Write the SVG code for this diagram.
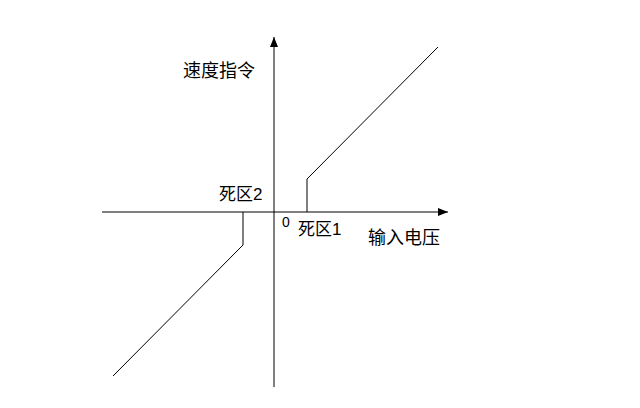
<svg xmlns="http://www.w3.org/2000/svg" width="640" height="408" viewBox="0 0 640 408">
<style>
.ax{stroke:#000;stroke-width:1;fill:none}
.ln{stroke:#000;stroke-width:1;fill:none}
text{font-family:"Liberation Sans","Noto Sans CJK SC",sans-serif;fill:#000}
</style>
<defs>
<marker id="arr" viewBox="0 0 10 8" refX="10" refY="4" markerWidth="10" markerHeight="8" markerUnits="userSpaceOnUse" orient="auto">
<path d="M0,0 L10,4 L0,8 Z" fill="#000"/>
</marker>
</defs>
<rect width="640" height="408" fill="#fff"/>
<g id="connectors">
<line class="ax" x1="102" y1="212" x2="448" y2="212" marker-end="url(#arr)"/>
<line class="ax" x1="274" y1="387" x2="274" y2="37" marker-end="url(#arr)"/>
<polyline class="ln" points="307,212 307,179 438,47"/>
<polyline class="ln" points="243,212 243,245 113,376"/>
</g>
<g id="labels">
<text x="183" y="77" font-size="18">速度指令</text>
<text x="368" y="244" font-size="18">输入电压</text>
<text x="219" y="200" font-size="17">死区2</text>
<text x="298" y="235" font-size="17">死区1</text>
<text x="282" y="227" font-size="14">0</text>
</g>
</svg>
